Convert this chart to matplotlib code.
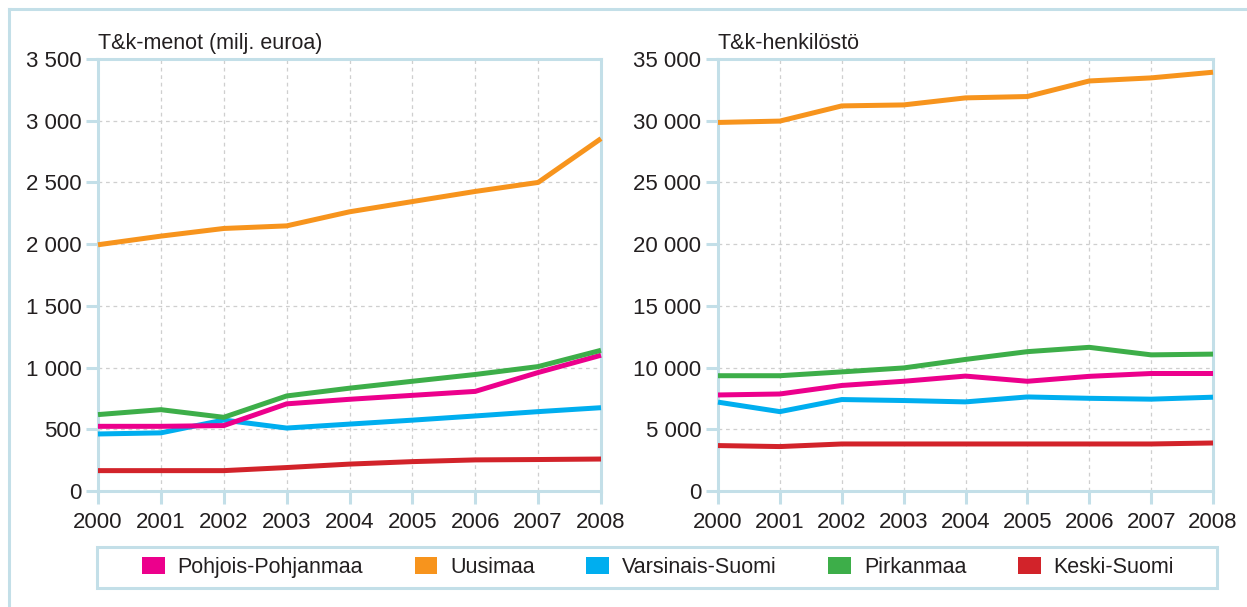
import matplotlib
matplotlib.use("Agg")
import matplotlib.pyplot as plt
from matplotlib.patches import Rectangle, Patch
from matplotlib.lines import Line2D
from matplotlib.ticker import FuncFormatter

plt.rcParams['font.family'] = ['Liberation Sans', 'DejaVu Sans']

years = [2000, 2001, 2002, 2003, 2004, 2005, 2006, 2007, 2008]
regions = ["Pohjois-Pohjanmaa", "Uusimaa", "Varsinais-Suomi", "Pirkanmaa", "Keski-Suomi"]
colors = ["#EC008C", "#F7941D", "#00AEEF", "#3DAE49", "#D2232A"]

# T&k-menot (milj. euroa)
menot_pp = [524, 524, 530, 706, 743, 775, 807, 960, 1100]
menot_uus = [1995, 2065, 2127, 2148, 2262, 2345, 2427, 2500, 2855]
menot_vs = [462, 471, 575, 510, 542, 574, 608, 643, 675]
menot_pir = [619, 659, 597, 770, 833, 889, 944, 1008, 1140]
menot_ks = [165, 165, 165, 190, 218, 238, 252, 255, 259]

# T&k-henkilöstö
henk_pp = [7780, 7860, 8550, 8890, 9310, 8890, 9290, 9520, 9520]
henk_uus = [29860, 29970, 31200, 31280, 31850, 31960, 33220, 33470, 33930]
henk_vs = [7200, 6430, 7410, 7330, 7220, 7620, 7510, 7440, 7600]
henk_pir = [9340, 9340, 9650, 9970, 10660, 11290, 11640, 11030, 11090]
henk_ks = [3680, 3600, 3810, 3810, 3810, 3810, 3810, 3810, 3890]

left_ticks = [0, 500, 1000, 1500, 2000, 2500, 3000, 3500]
right_ticks = [0, 5000, 10000, 15000, 20000, 25000, 30000, 35000]

SPINE = "#C3DFE8"
TEXT = "#231F20"
FS = 16

W, H = 1247, 607
fig = plt.figure(figsize=(W / 100, H / 100), dpi=100)


def fx(px):
    return px / W


def fy(py):
    return 1 - py / H


def thousands(v, pos):
    return f"{int(v):,}".replace(",", " ")


def setup(ax, ticks, title):
    ax.set_xlim(years[0], years[-1])
    ax.set_ylim(ticks[0], ticks[-1])
    ax.set_xticks(years)
    ax.set_yticks(ticks)
    ax.yaxis.set_major_formatter(FuncFormatter(thousands))
    for s in ax.spines.values():
        s.set_color(SPINE)
        s.set_linewidth(2.2)
    ax.tick_params(axis="both", colors=SPINE, labelcolor=TEXT, labelsize=FS,
                   width=2.2, length=9, direction="out")
    ax.tick_params(axis="x", pad=6)
    ax.tick_params(axis="y", pad=3)
    ax.grid(True, color="#CFCFCF", linestyle=(0, (3, 3)), linewidth=0.9)
    ax.set_axisbelow(True)
    ax.text(0.0, 1.012, title, transform=ax.transAxes, fontsize=FS - 0.5,
            color=TEXT, ha="left", va="bottom")


ax1 = fig.add_axes([fx(98), fy(491), fx(601 - 98), (491 - 59) / H])
ax2 = fig.add_axes([fx(718), fy(491), fx(1213 - 718), (491 - 59) / H])

setup(ax1, left_ticks, "T&k-menot (milj. euroa)")
setup(ax2, right_ticks, "T&k-henkilöstö")

left_series = [menot_pp, menot_uus, menot_vs, menot_pir, menot_ks]
right_series = [henk_pp, henk_uus, henk_vs, henk_pir, henk_ks]
order = [4, 2, 0, 3, 1]
for i in order:
    ax1.plot(years, left_series[i], color=colors[i], linewidth=3.6,
             solid_capstyle="butt", clip_on=False, zorder=3)
    ax2.plot(years, right_series[i], color=colors[i], linewidth=3.6,
             solid_capstyle="butt", clip_on=False, zorder=3)

# outer frame (top and left only, rest is cropped)
for xs, ys in [((9, 1247), (9, 9)), ((9, 9), (9, 607))]:
    fig.add_artist(Line2D([fx(x) for x in xs], [fy(y) for y in ys],
                          color=SPINE, linewidth=2.2))

# legend box
fig.add_artist(Rectangle((fx(97), fy(588)), fx(1217 - 97), (588 - 547) / H,
                         fill=False, edgecolor=SPINE, linewidth=2.2))
handles = [Patch(facecolor=c, edgecolor="none") for c in colors]
fig.legend(handles, regions, loc="center", bbox_to_anchor=(fx(658), fy(567.5)),
           ncol=5, frameon=False, fontsize=FS - 0.5, handlelength=1.05, handleheight=0.85,
           handletextpad=0.6, columnspacing=2.4, labelcolor=TEXT)

fig.savefig("out.png", dpi=100)
